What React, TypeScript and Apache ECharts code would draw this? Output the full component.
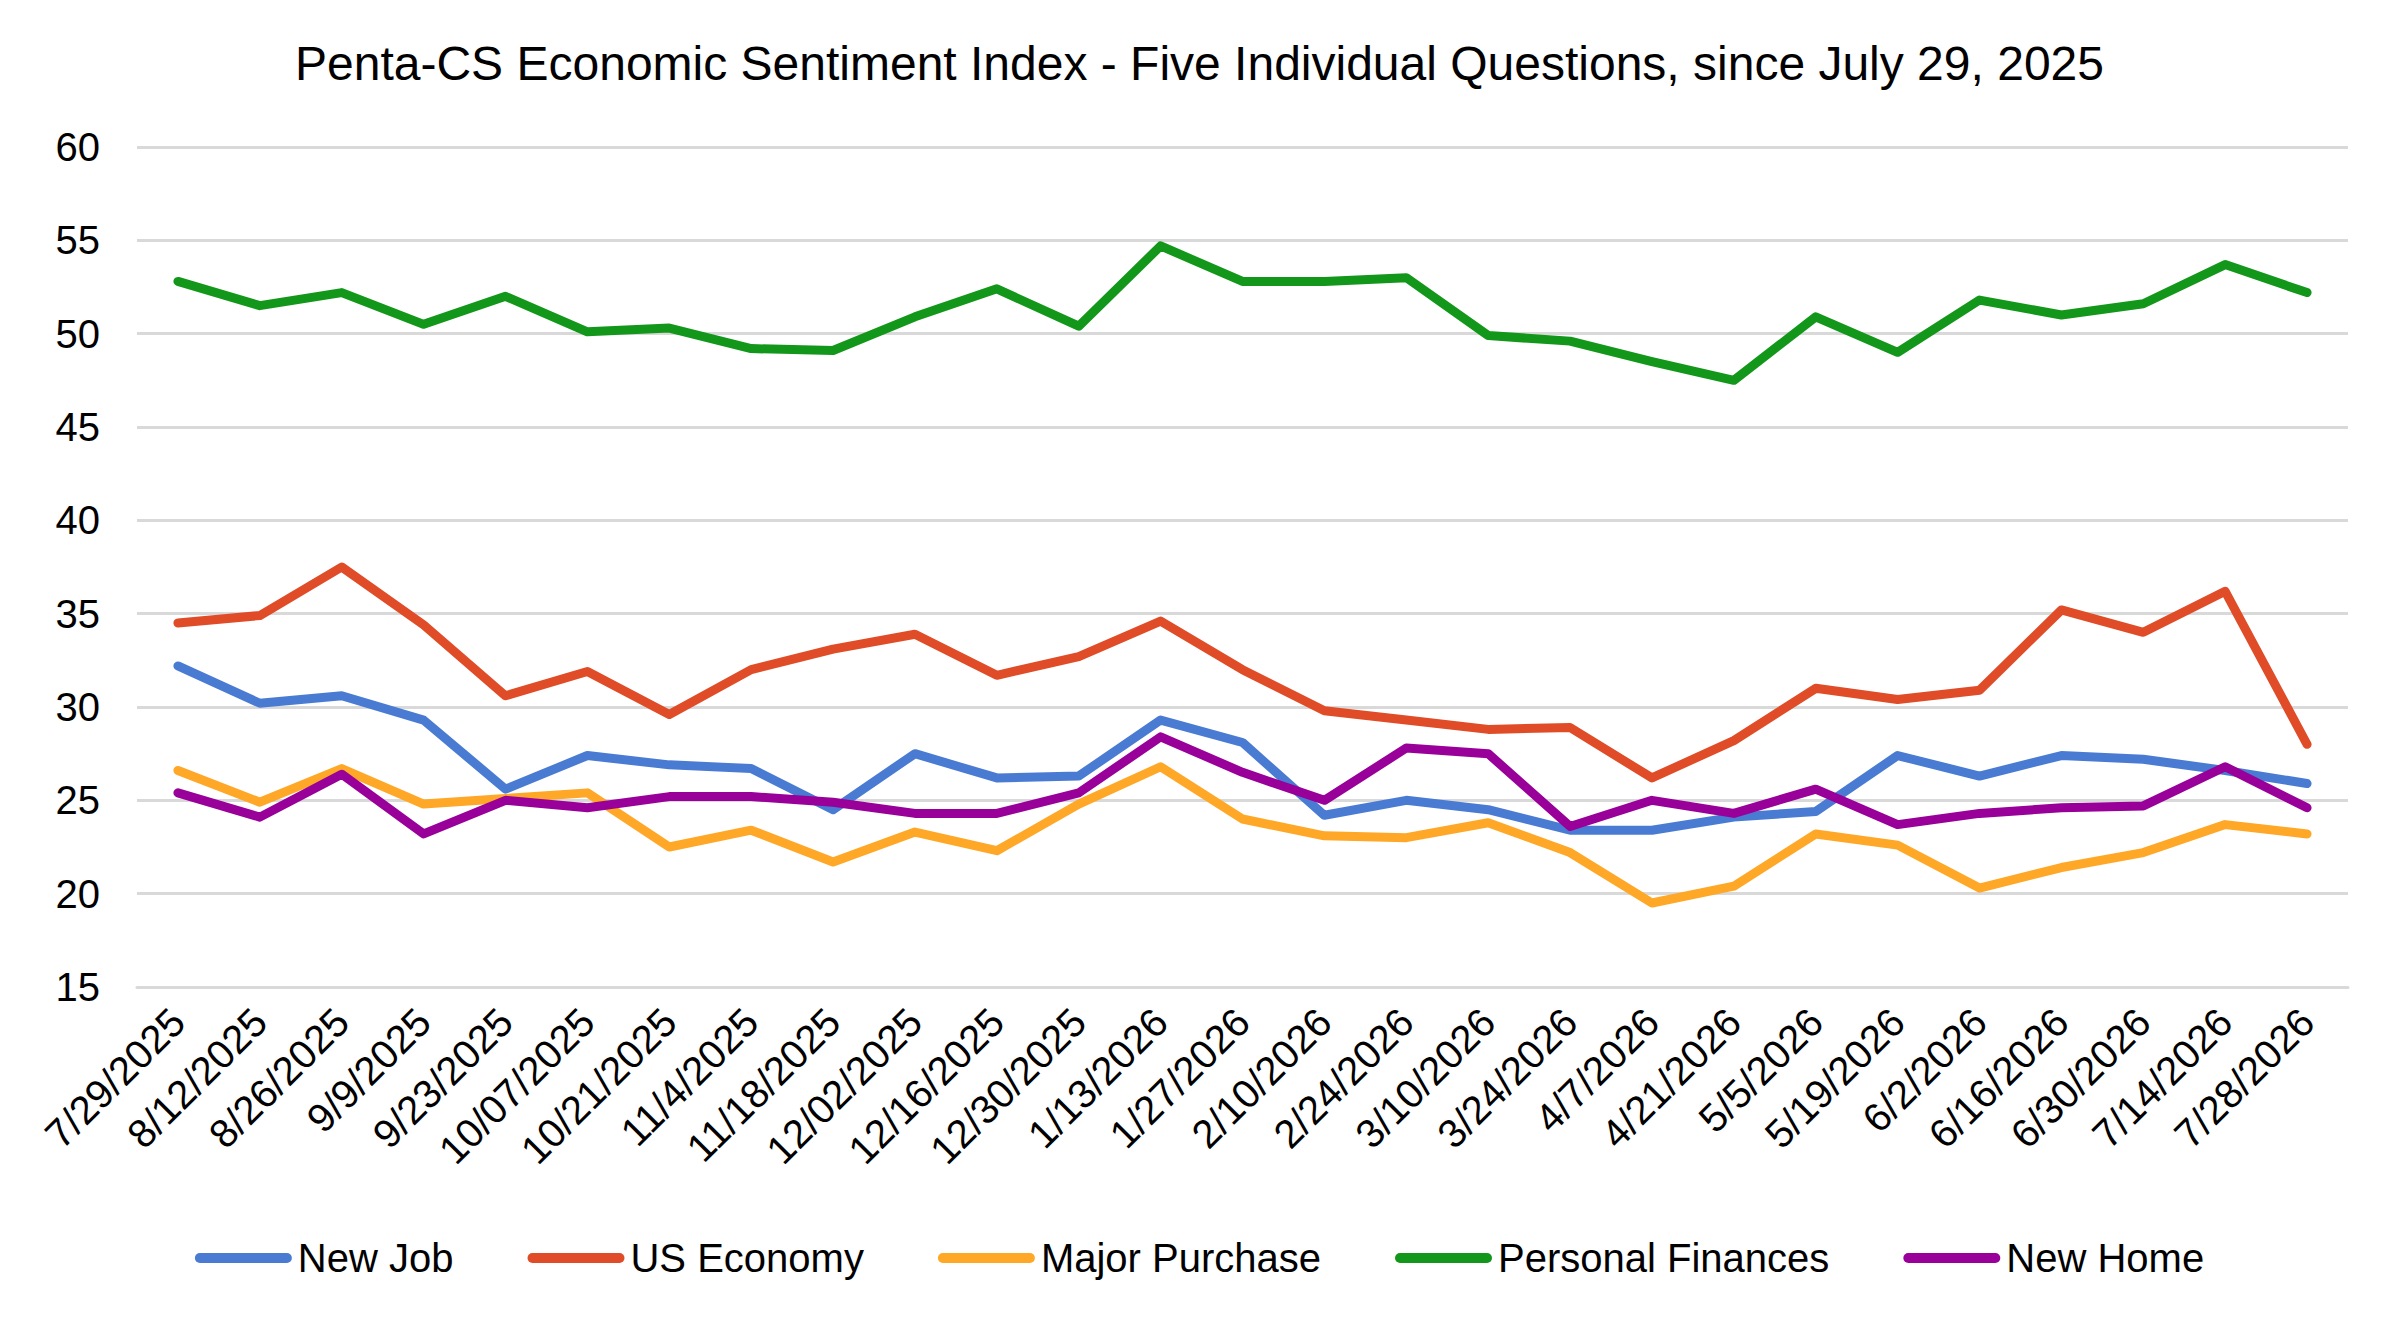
import React, { useEffect, useRef } from "react";
import * as echarts from "echarts";

const categories = [
  "7/29/2025", "8/12/2025", "8/26/2025", "9/9/2025", "9/23/2025", "10/07/2025",
  "10/21/2025", "11/4/2025", "11/18/2025", "12/02/2025", "12/16/2025", "12/30/2025",
  "1/13/2026", "1/27/2026", "2/10/2026", "2/24/2026", "3/10/2026", "3/24/2026",
  "4/7/2026", "4/21/2026", "5/5/2026", "5/19/2026", "6/2/2026", "6/16/2026",
  "6/30/2026", "7/14/2026", "7/28/2026",
];

const newJob = [32.2, 30.2, 30.6, 29.3, 25.6, 27.4, 26.9, 26.7, 24.5, 27.5, 26.2, 26.3, 29.3, 28.1, 24.2, 25.0, 24.5, 23.4, 23.4, 24.1, 24.4, 27.4, 26.3, 27.4, 27.2, 26.6, 25.9];
const usEconomy = [34.5, 34.9, 37.5, 34.4, 30.6, 31.9, 29.6, 32.0, 33.1, 33.9, 31.7, 32.7, 34.6, 32.0, 29.8, 29.3, 28.8, 28.9, 26.2, 28.2, 31.0, 30.4, 30.9, 35.2, 34.0, 36.2, 28.0];
const majorPurchase = [26.6, 24.9, 26.7, 24.8, 25.1, 25.4, 22.5, 23.4, 21.7, 23.3, 22.3, 24.8, 26.8, 24.0, 23.1, 23.0, 23.8, 22.2, 19.5, 20.4, 23.2, 22.6, 20.3, 21.4, 22.2, 23.7, 23.2];
const personalFinances = [52.8, 51.5, 52.2, 50.5, 52.0, 50.1, 50.3, 49.2, 49.1, 50.9, 52.4, 50.4, 54.7, 52.8, 52.8, 53.0, 49.9, 49.6, 48.5, 47.5, 50.9, 49.0, 51.8, 51.0, 51.6, 53.7, 52.2];
const newHome = [25.4, 24.1, 26.4, 23.2, 25.0, 24.6, 25.2, 25.2, 24.9, 24.3, 24.3, 25.4, 28.4, 26.5, 25.0, 27.8, 27.5, 23.6, 25.0, 24.3, 25.6, 23.7, 24.3, 24.6, 24.7, 26.8, 24.6];

const seriesNames = ["New Job", "US Economy", "Major Purchase", "Personal Finances", "New Home"];
const seriesColors = ["#4A7BD3", "#DF4C27", "#FFA726", "#13971A", "#990099"];
const seriesData = [newJob, usEconomy, majorPurchase, personalFinances, newHome];

const titleText = "Penta-CS Economic Sentiment Index - Five Individual Questions, since July 29, 2025";
const FONT = "'Liberation Sans', Arial, sans-serif";

export default function App() {
  const ref = useRef<HTMLDivElement>(null);

  useEffect(() => {
    if (!ref.current) return;
    const chart = echarts.init(ref.current, undefined, { renderer: "svg" });
    chart.setOption({
      animation: false,
      backgroundColor: "#ffffff",
      textStyle: { fontFamily: FONT },
      title: {
        text: titleText,
        left: "center",
        top: 26,
        textStyle: { fontFamily: FONT, fontSize: 48, fontWeight: "normal", color: "#000000" },
      },
      legend: {
        data: seriesNames,
        left: "center",
        top: 1225,
        itemWidth: 97,
        itemHeight: 10,
        itemGap: 74,
        icon: "path://M5,0H92A5,5 0 0 1 92,10H5A5,5 0 0 1 5,0Z",
        textStyle: { fontFamily: FONT, fontSize: 40, color: "#000000", padding: [0, 0, 0, 1] },
      },
      grid: { left: 129, right: 43, top: 139, bottom: 325, containLabel: false },
      xAxis: {
        type: "category",
        data: categories,
        boundaryGap: true,
        axisLine: { show: true, lineStyle: { color: "#d9d9d9", width: 3 } },
        axisTick: { show: false },
        axisLabel: {
          interval: 0,
          rotate: 45,
          margin: 28,
          fontSize: 40,
          fontFamily: FONT,
          color: "#000000",
        },
      },
      yAxis: {
        type: "value",
        min: 15,
        max: 60,
        interval: 5,
        axisLine: { show: false },
        axisTick: { show: false },
        axisLabel: { fontSize: 40, fontFamily: FONT, color: "#000000", margin: 37 },
        splitLine: { show: true, lineStyle: { color: "#d9d9d9", width: 3 } },
      },
      series: seriesNames.map((name, i) => ({
        name,
        type: "line",
        data: seriesData[i],
        symbol: "none",
        smooth: false,
        color: seriesColors[i],
        lineStyle: { color: seriesColors[i], width: 9, cap: "round", join: "round" },
        itemStyle: { color: seriesColors[i] },
      })),
    });
    return () => chart.dispose();
  }, []);

  return <div ref={ref} style={{ width: "2383px", height: "1304px" }} />;
}
